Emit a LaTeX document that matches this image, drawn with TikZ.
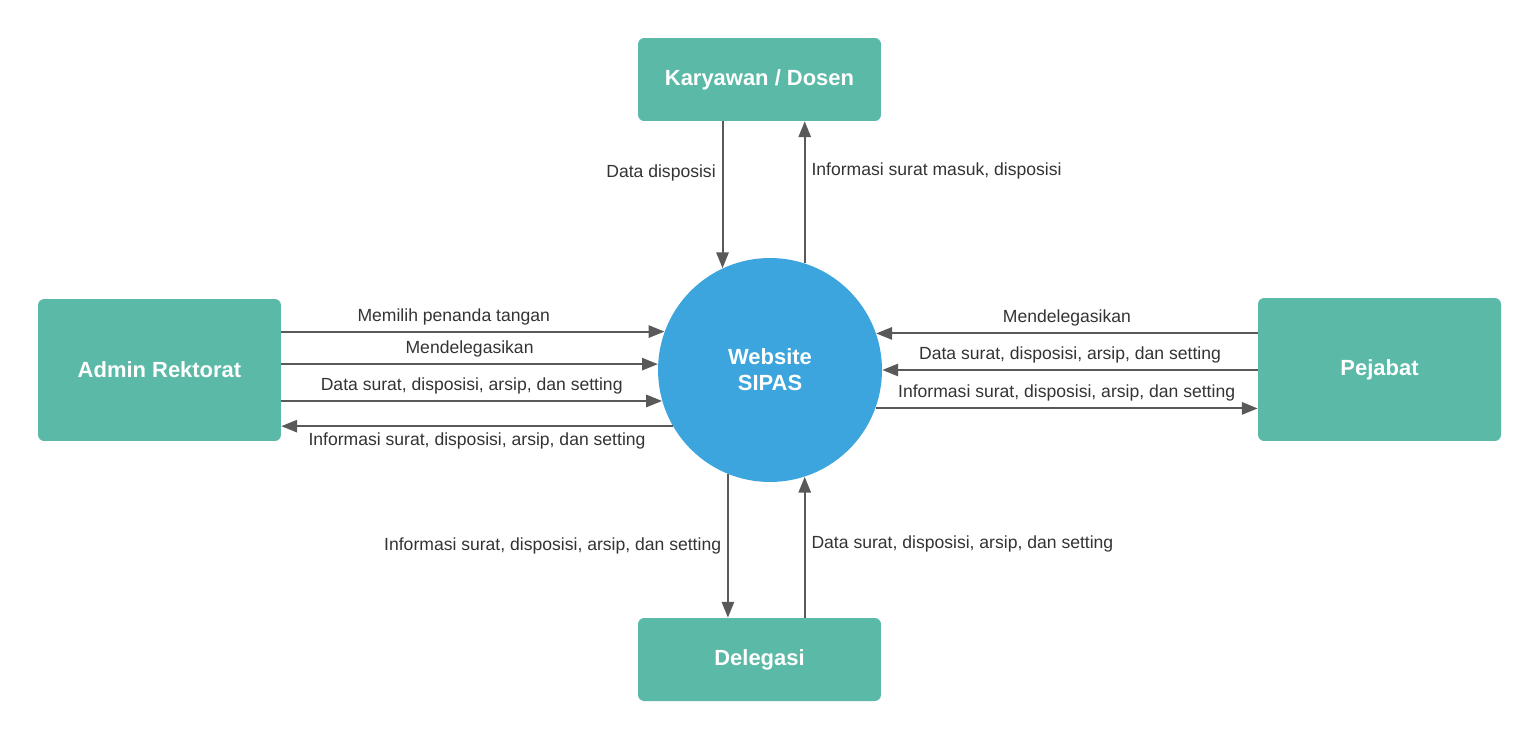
\documentclass[tikz,border=0pt]{standalone}
\usepackage{fontspec}
\setmainfont{Liberation Sans}
\usetikzlibrary{arrows.meta}
\definecolor{boxteal}{HTML}{5BB9A7}
\definecolor{hubblue}{HTML}{3CA5DD}
\definecolor{flowgray}{HTML}{595959}
\definecolor{txtgray}{HTML}{333333}
\begin{document}
\begin{tikzpicture}[x=0.02cm,y=-0.02cm,>={Triangle[length=9pt,width=7pt]},
  entity/.style={fill=boxteal,rounded corners=3.5pt,minimum width=4.86cm,text=white,font=\bfseries\fontsize{12.5}{15}\selectfont},
  hub/.style={circle,fill=hubblue,minimum size=4.48cm,inner sep=0pt,text=white,align=center,font=\bfseries\fontsize{12.5}{14.7}\selectfont},
  flow/.style={->,draw=flowgray,line width=1.1pt},
  lbl/.style={text=txtgray,font=\fontsize{10}{12}\selectfont}]
\useasboundingbox (0,0) rectangle (1540,740);
\node[entity,minimum height=1.66cm](kary) at (759.5,79.5){Karyawan / Dosen};
\node[entity,minimum height=2.84cm](admin) at (159.5,370){Admin Rektorat};
\node[entity,minimum height=2.86cm](pejabat) at (1379.5,369.5){Pejabat};
\node[entity,minimum height=1.66cm](deleg) at (759.5,659.5){Delegasi};
\node[hub](site) at (770,370){Website\\SIPAS};
% karyawan / dosen
\draw[flow](site.115.4 |- kary.south)--(site.115.4)node[lbl,left,pos=0.35]{Data disposisi};
\draw[flow](site.72.3)--(site.72.3 |- kary.south)node[lbl,right,pos=0.65]{Informasi surat masuk, disposisi};
% admin rektorat
\draw[flow](admin.east |- site.160.2)--(site.160.2)node[lbl,above,pos=0.45]{Memilih penanda tangan};
\draw[flow](admin.east |- site.177.95)--(site.177.95)node[lbl,above,midway]{Mendelegasikan};
\draw[flow](admin.east |- site.196.07)--(site.196.07)node[lbl,above,midway]{Data surat, disposisi, arsip, dan setting};
\draw[flow](site.210)--(admin.east |- site.210)node[lbl,below,midway]{Informasi surat, disposisi, arsip, dan setting};
% pejabat
\draw[flow](pejabat.west |- site.19.84)--(site.19.84)node[lbl,above,midway]{Mendelegasikan};
\draw[flow](pejabat.west |- site.east)--(site.east)node[lbl,above,midway]{Data surat, disposisi, arsip, dan setting};
\draw[flow](site.340.7)--(pejabat.west |- site.340.7)node[lbl,above,midway]{Informasi surat, disposisi, arsip, dan setting};
% delegasi
\draw[flow](site.248.5)--(site.248.5 |- deleg.north)node[lbl,left,midway]{Informasi surat, disposisi, arsip, dan setting};
\draw[flow](site.288.2 |- deleg.north)--(site.288.2)node[lbl,right,pos=0.52]{Data surat, disposisi, arsip, dan setting};
\end{tikzpicture}
\end{document}
